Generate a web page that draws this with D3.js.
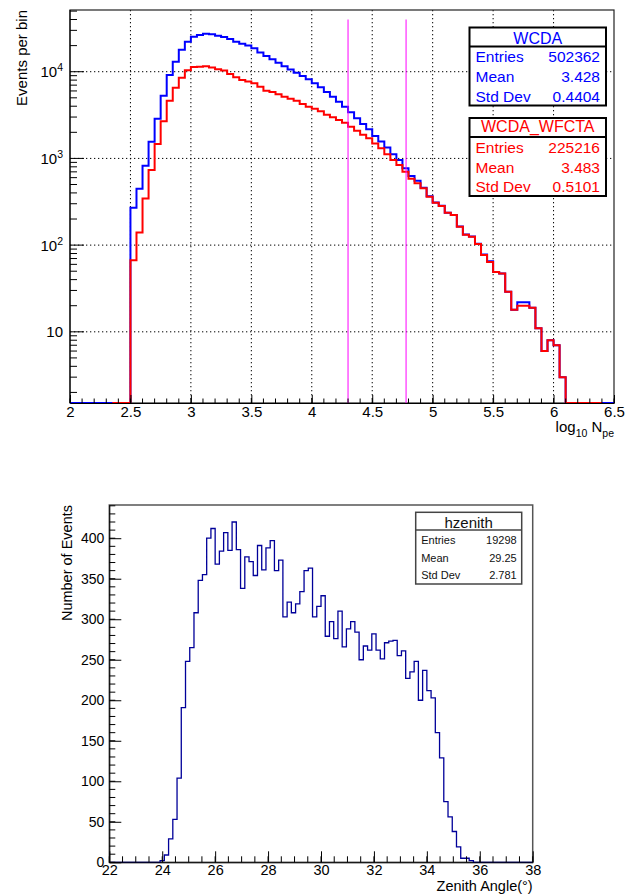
<!DOCTYPE html>
<html>
<head>
<meta charset="utf-8">
<script src="https://d3js.org/d3.v7.min.js"></script>
<style>
  body { margin: 0; background: #fff; }
  svg { display: block; font-family: "Liberation Sans", Arial, Helvetica, sans-serif; }
</style>
</head>
<body>
<script>
// ---- top panel: log10(Npe), bins of 0.05, log y ----
var binW = 0.05;
var firstEdge = 2.5;
var wcdaRange = [2.0, 6.5];     // histogram drawn over this x range (zero bins at bottom)
var wfctaRange = [2.35, 6.4];
var wcdaCounts = [270, 448, 824, 1560, 2870, 5290, 9160, 13000, 17900, 22200,
  25300, 26500, 27400, 27000, 26000, 25100, 23800, 22200, 21000, 20000,
  18600, 16700, 15200, 13900, 12700, 11600, 10600, 9750, 8920, 8170,
  7340, 6610, 5830, 5150, 4510, 3950, 3400, 2900, 2490, 2170,
  1810, 1570, 1340, 1120, 960, 770, 627, 553, 460, 365,
  310, 284, 237, 223, 164, 133, 126, 104, 78, 65,
  49, 47, 29, 18, 22, 22, 19, 11, 6, 8,
  7, 3];
var wfctaCounts = [67, 140, 346, 735, 1466, 2680, 4630, 6540, 8530, 10400,
  11300, 11400, 11600, 11200, 10700, 10300, 9400, 8610, 8010, 7700,
  7350, 6710, 6040, 5830, 5490, 5150, 4890, 4630, 4240, 3950,
  3740, 3490, 3190, 2980, 2770, 2580, 2320, 2090, 1880, 1710,
  1490, 1310, 1120, 960, 840, 703, 583, 516, 452, 361,
  308, 282, 236, 222, 163, 132, 125, 103, 77, 64,
  49, 47, 29, 18, 20, 20, 19, 11, 6, 8,
  7, 3];
var cutLines = [4.3, 4.78];
var cutTop = 40000;
var xTicksTop = [2, 2.5, 3, 3.5, 4, 4.5, 5, 5.5, 6, 6.5];
var yDecades = [1, 2, 3, 4];
var wcdaStats = [["Entries", "502362"], ["Mean", "3.428"], ["Std Dev", "0.4404"]];
var wfctaStats = [["Entries", "225216"], ["Mean", "3.483"], ["Std Dev", "0.5101"]];

// ---- bottom panel: zenith angle, bins of 0.16 ----
var zenW = 0.16;
var zenFirstEdge = 23.92;
var zenCounts = [2, 9, 29, 53, 104, 191, 248, 265, 308, 348,
  355, 400, 412, 368, 384, 407, 385, 420, 386, 338,
  377, 371, 354, 391, 361, 388, 397, 360, 373, 303,
  321, 308, 319, 334, 360, 363, 303, 316, 329, 279,
  297, 276, 310, 266, 288, 297, 284, 250, 267, 262,
  282, 262, 251, 271, 273, 274, 255, 261, 227, 235,
  248, 200, 237, 212, 203, 160, 129, 75, 56, 38,
  19, 5, 5, 2];
var zenTicks = [22, 24, 26, 28, 30, 32, 34, 36, 38];
var countTicks = [0, 50, 100, 150, 200, 250, 300, 350, 400];
var zenStats = [["Entries", "19298"], ["Mean", "29.25"], ["Std Dev", "2.781"]];

var svg = d3.select("body").append("svg")
    .attr("width", 638)
    .attr("height", 895);

// step path of a histogram, zero bins sit on the floor value
function histPoints(start, w, counts, range, floor) {
  var pts = [[range[0], floor], [start, floor]];
  counts.forEach(function(c, i) {
    var lo = start + i * w, hi = start + (i + 1) * w;
    pts.push([lo, Math.max(c, floor)]);
    pts.push([hi, Math.max(c, floor)]);
  });
  var end = start + counts.length * w;
  pts.push([end, floor]);
  pts.push([range[1], floor]);
  return pts;
}

// ================= TOP =================
var fr1 = {left: 70, right: 614, top: 10, bottom: 403};
var yMin = 1.51, yMax = 51500;
var x1 = d3.scaleLinear().domain([2, 6.5]).range([fr1.left, fr1.right]);
var y1 = d3.scaleLog().domain([yMin, yMax]).range([fr1.bottom, fr1.top]);

var g1 = svg.append("g");

// grid
g1.selectAll("line.gx").data(xTicksTop.slice(1, -1)).enter().append("line")
    .attr("x1", function(d) { return x1(d); }).attr("x2", function(d) { return x1(d); })
    .attr("y1", fr1.top).attr("y2", fr1.bottom)
    .attr("stroke", "#000").attr("stroke-width", 1).attr("stroke-dasharray", "1.3,2.7");
g1.selectAll("line.gy").data(yDecades).enter().append("line")
    .attr("x1", fr1.left).attr("x2", fr1.right)
    .attr("y1", function(d) { return y1(Math.pow(10, d)); })
    .attr("y2", function(d) { return y1(Math.pow(10, d)); })
    .attr("stroke", "#000").attr("stroke-width", 1).attr("stroke-dasharray", "1.3,2.7");

// frame
g1.append("rect")
    .attr("x", fr1.left).attr("y", fr1.top)
    .attr("width", fr1.right - fr1.left).attr("height", fr1.bottom - fr1.top)
    .attr("fill", "none").attr("stroke", "#222").attr("stroke-width", 1.2);

var line1 = d3.line()
    .x(function(d) { return x1(d[0]); })
    .y(function(d) { return y1(d[1]); });

g1.append("path")
    .attr("d", line1(histPoints(firstEdge, binW, wcdaCounts, wcdaRange, yMin)))
    .attr("fill", "none").attr("stroke", "#0000ff").attr("stroke-width", 2);
g1.append("path")
    .attr("d", line1(histPoints(firstEdge, binW, wfctaCounts, wfctaRange, yMin)))
    .attr("fill", "none").attr("stroke", "#ff0000").attr("stroke-width", 2);

// cut lines
g1.selectAll("line.cut").data(cutLines).enter().append("line")
    .attr("x1", function(d) { return x1(d); }).attr("x2", function(d) { return x1(d); })
    .attr("y1", y1(cutTop)).attr("y2", fr1.bottom)
    .attr("stroke", "#ff00ff").attr("stroke-width", 1);

// x axis
var minorX1 = d3.range(2, 6.5001, 0.1);
g1.selectAll("line.mx").data(minorX1).enter().append("line")
    .attr("x1", function(d) { return x1(d); }).attr("x2", function(d) { return x1(d); })
    .attr("y1", fr1.bottom).attr("y2", fr1.bottom - 4.5)
    .attr("stroke", "#000");
var xAxis1 = d3.axisBottom(x1).tickValues(xTicksTop).tickSizeInner(-8).tickSizeOuter(0)
    .tickPadding(3).tickFormat(function(d) { return d; });
var ax1 = g1.append("g").attr("transform", "translate(0," + fr1.bottom + ")").call(xAxis1);
ax1.select(".domain").attr("stroke", "#000");
ax1.selectAll("text").attr("font-size", "15px").attr("fill", "#000")
    .attr("font-family", "Liberation Sans, Arial, sans-serif");

// y axis (log)
var minorY1 = [];
[0, 1, 2, 3, 4].forEach(function(e) {
  for (var m = 2; m <= 9; m++) {
    var v = m * Math.pow(10, e);
    if (v >= yMin && v <= yMax) minorY1.push(v);
  }
});
g1.selectAll("line.my").data(minorY1).enter().append("line")
    .attr("x1", fr1.left).attr("x2", fr1.left + 7)
    .attr("y1", function(d) { return y1(d); }).attr("y2", function(d) { return y1(d); })
    .attr("stroke", "#000");
g1.selectAll("line.My").data(yDecades).enter().append("line")
    .attr("x1", fr1.left).attr("x2", fr1.left + 14)
    .attr("y1", function(d) { return y1(Math.pow(10, d)); })
    .attr("y2", function(d) { return y1(Math.pow(10, d)); })
    .attr("stroke", "#000");
g1.append("line").attr("x1", fr1.left).attr("x2", fr1.left)
    .attr("y1", fr1.top).attr("y2", fr1.bottom).attr("stroke", "#000");

var ylab = g1.selectAll("text.yl").data(yDecades).enter().append("text")
    .attr("x", 63).attr("y", function(d) { return y1(Math.pow(10, d)) + 5.5; })
    .attr("text-anchor", "end").attr("font-size", "15px");
ylab.append("tspan").text("10");
ylab.filter(function(d) { return d > 1; }).append("tspan")
    .attr("font-size", "10.5px").attr("dy", -6).text(function(d) { return d; });

// titles
g1.append("text")
    .attr("transform", "translate(27," + fr1.top + ") rotate(-90)")
    .attr("text-anchor", "end").attr("font-size", "15px").text("Events per bin");
var xt = g1.append("text").attr("x", 614).attr("y", 432)
    .attr("text-anchor", "end").attr("font-size", "15px");
xt.append("tspan").text("log");
xt.append("tspan").attr("font-size", "10.5px").attr("dy", 5).text("10");
xt.append("tspan").attr("dy", -5).text(" N");
xt.append("tspan").attr("font-size", "10.5px").attr("dy", 5).text("pe");

// stat boxes
function statBox(g, box, title, rows, color, opt) {
  g.append("rect").attr("x", box.x).attr("y", box.y)
      .attr("width", box.w).attr("height", box.h)
      .attr("fill", "#fff").attr("stroke", opt.stroke).attr("stroke-width", opt.sw);
  g.append("line").attr("x1", box.x).attr("x2", box.x + box.w)
      .attr("y1", box.sep).attr("y2", box.sep)
      .attr("stroke", opt.stroke).attr("stroke-width", opt.sw);
  g.append("text").attr("x", box.x + box.w / 2).attr("y", box.titleY)
      .attr("text-anchor", "middle").attr("font-size", opt.titleSize)
      .attr("fill", color).text(title);
  rows.forEach(function(r, i) {
    g.append("text").attr("x", box.x + opt.pad).attr("y", box.rowY[i])
        .attr("font-size", opt.rowSize).attr("fill", color).text(r[0]);
    g.append("text").attr("x", box.x + box.w - opt.padR).attr("y", box.rowY[i])
        .attr("text-anchor", "end")
        .attr("font-size", opt.rowSize).attr("fill", color).text(r[1]);
  });
}
var bigOpt = {stroke: "#000", sw: 2, titleSize: "16px", rowSize: "15.5px", pad: 6, padR: 6};
statBox(g1, {x: 469.5, y: 27.5, w: 136.5, h: 78, sep: 46.5, titleY: 43.5, rowY: [62, 82, 101.5]},
    "WCDA", wcdaStats, "#0000ff", bigOpt);
statBox(g1, {x: 469.5, y: 118, w: 136.5, h: 78, sep: 137, titleY: 132, rowY: [153, 173, 192]},
    "WCDA_WFCTA", wfctaStats, "#ff0000", bigOpt);

// ================= BOTTOM =================
var fr2 = {left: 109.3, right: 532.7, top: 505, bottom: 862.3};
var x2 = d3.scaleLinear().domain([22, 38]).range([fr2.left, fr2.right]);
var y2 = d3.scaleLinear().domain([0, 441]).range([fr2.bottom, fr2.top]);
var g2 = svg.append("g");

g2.append("rect")
    .attr("x", fr2.left).attr("y", fr2.top)
    .attr("width", fr2.right - fr2.left).attr("height", fr2.bottom - fr2.top)
    .attr("fill", "none").attr("stroke", "#555").attr("stroke-width", 1.5);

var line2 = d3.line()
    .x(function(d) { return x2(d[0]); })
    .y(function(d) { return y2(d[1]); });
g2.append("path")
    .attr("d", line2(histPoints(zenFirstEdge, zenW, zenCounts, [22, 38], 0)))
    .attr("fill", "none").attr("stroke", "#000099").attr("stroke-width", 1.3);

// x axis
var minorX2 = d3.range(22, 38.001, 0.5);
g2.selectAll("line.mx").data(minorX2).enter().append("line")
    .attr("x1", function(d) { return x2(d); }).attr("x2", function(d) { return x2(d); })
    .attr("y1", fr2.bottom).attr("y2", fr2.bottom - 6)
    .attr("stroke", "#000");
var xAxis2 = d3.axisBottom(x2).tickValues(zenTicks).tickSizeInner(-11).tickSizeOuter(0)
    .tickPadding(2).tickFormat(d3.format("d"));
var ax2 = g2.append("g").attr("transform", "translate(0," + fr2.bottom + ")").call(xAxis2);
ax2.select(".domain").attr("stroke", "#000");
ax2.selectAll("text").attr("font-size", "14.5px").attr("fill", "#000")
    .attr("font-family", "Liberation Sans, Arial, sans-serif");

// y axis
var minorY2 = d3.range(0, 441, 10);
g2.selectAll("line.my").data(minorY2).enter().append("line")
    .attr("x1", fr2.left).attr("x2", fr2.left + 6)
    .attr("y1", function(d) { return y2(d); }).attr("y2", function(d) { return y2(d); })
    .attr("stroke", "#000");
var yAxis2 = d3.axisLeft(y2).tickValues(countTicks).tickSizeInner(-12).tickSizeOuter(0)
    .tickPadding(5).tickFormat(d3.format("d"));
var ay2 = g2.append("g").attr("transform", "translate(" + fr2.left + ",0)").call(yAxis2);
ay2.select(".domain").attr("stroke", "#000");
ay2.selectAll("text").attr("font-size", "14px").attr("fill", "#000")
    .attr("font-family", "Liberation Sans, Arial, sans-serif");

g2.append("text")
    .attr("transform", "translate(72," + fr2.top + ") rotate(-90)")
    .attr("text-anchor", "end").attr("font-size", "14.5px").text("Number of Events");
g2.append("text").attr("x", fr2.right).attr("y", 891)
    .attr("text-anchor", "end").attr("font-size", "14.5px").text("Zenith Angle(\u00b0)");

statBox(g2, {x: 415.7, y: 512.3, w: 106, h: 71.7, sep: 530, titleY: 527.5, rowY: [543.5, 561.5, 579]},
    "hzenith", zenStats, "#111",
    {stroke: "#444", sw: 1.5, titleSize: "15px", rowSize: "11px", pad: 5.5, padR: 5});
</script>
</body>
</html>
